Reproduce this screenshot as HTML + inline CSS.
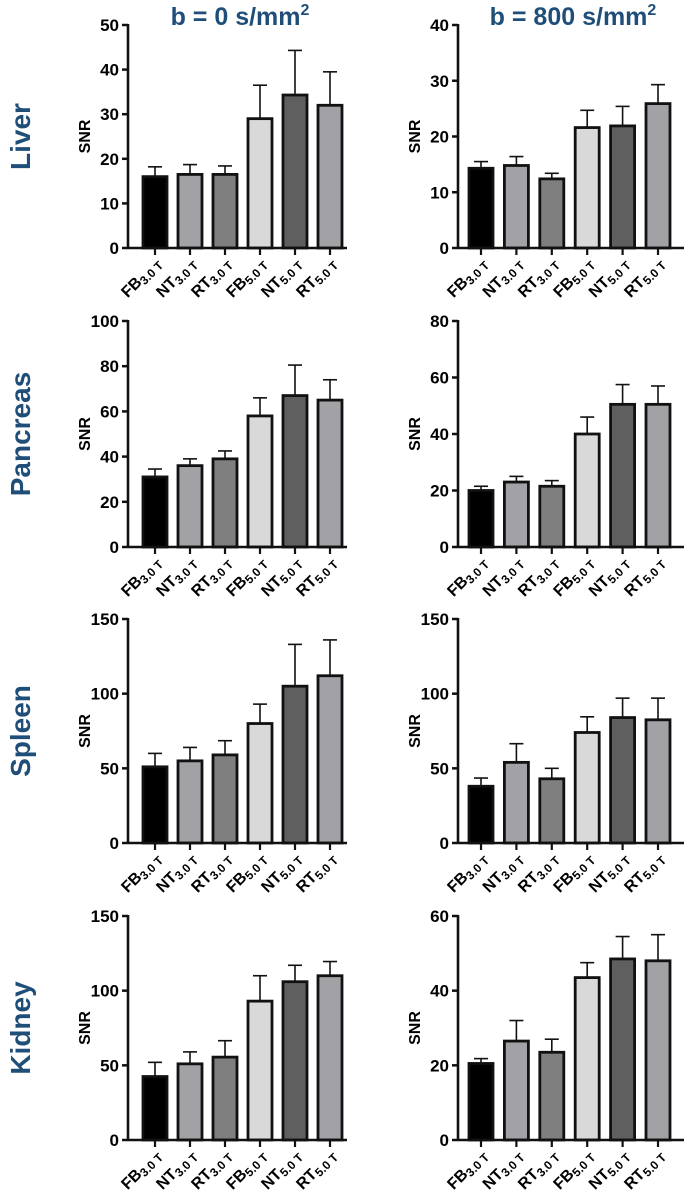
<!DOCTYPE html>
<html><head><meta charset="utf-8">
<style>
html,body{margin:0;padding:0;background:#fff;}
svg{display:block;font-family:"Liberation Sans",Arial,sans-serif;}
</style></head>
<body>
<svg id="chart" width="685" height="1202" viewBox="0 0 685 1202">
<text x="240" y="25" text-anchor="middle" font-size="25" font-weight="bold" fill="#1f4e79">b = 0 s/mm<tspan font-size="16" dy="-10">2</tspan></text>
<text x="573" y="25" text-anchor="middle" font-size="25" font-weight="bold" fill="#1f4e79">b = 800 s/mm<tspan font-size="16" dy="-10">2</tspan></text>
</svg>
<script>
const categories = ["FB","NT","RT","FB","NT","RT"];
const fields = ["3.0 T","3.0 T","3.0 T","5.0 T","5.0 T","5.0 T"];
const organs = ["Liver","Pancreas","Spleen","Kidney"];
const liverB0 = [16,16.5,16.5,29,34.3,32];
const liverB0Err = [18.2,18.7,18.4,36.5,44.3,39.5];
const liverB800 = [14.3,14.8,12.4,21.6,21.9,25.9];
const liverB800Err = [15.5,16.4,13.4,24.7,25.4,29.3];
const pancB0 = [31,36,39,58,67,65];
const pancB0Err = [34.5,39,42.5,66,80.5,74];
const pancB800 = [20,23,21.5,40,50.5,50.5];
const pancB800Err = [21.5,25,23.5,46,57.5,57];
const spleenB0 = [51,55,59,80,105,112];
const spleenB0Err = [60,64,68.5,93,133,136];
const spleenB800 = [38,54,43,74,84,82.5];
const spleenB800Err = [43.5,66.5,50,84.5,97,97];
const kidB0 = [42.5,51,55.5,93,106,110];
const kidB0Err = [52,59,66.5,110,117,119.5];
const kidB800 = [20.5,26.5,23.5,43.5,48.5,48];
const kidB800Err = [21.8,32,27,47.5,54.5,55];
const yTicksLiverB0 = [0,10,20,30,40,50];
const yTicksLiverB800 = [0,10,20,30,40];
const yTicksPancB0 = [0,20,40,60,80,100];
const yTicksPancB800 = [0,20,40,60,80];
const yTicksSpleen = [0,50,100,150];
const yTicksKidB0 = [0,50,100,150];
const yTicksKidB800 = [0,20,40,60];
const fills = ["#000000","#a2a2a6","#7f7f7f","#d9d9d9","#5f5f5f","#a2a2a6"];

const panels = [
 [liverB0,liverB0Err,yTicksLiverB0],[liverB800,liverB800Err,yTicksLiverB800],
 [pancB0,pancB0Err,yTicksPancB0],[pancB800,pancB800Err,yTicksPancB800],
 [spleenB0,spleenB0Err,yTicksSpleen],[spleenB800,spleenB800Err,yTicksSpleen],
 [kidB0,kidB0Err,yTicksKidB0],[kidB800,kidB800Err,yTicksKidB800]
];
const NS="http://www.w3.org/2000/svg";
const svg=document.getElementById('chart');
function mk(tag,attrs,parent){const e=document.createElementNS(NS,tag);for(const k in attrs)e.setAttribute(k,attrs[k]);(parent||svg).appendChild(e);return e;}
const rowTop=[25,321,619,916], rowZero=[248,547,843,1140];
const axisX=[128,458], firstBar=[155,481], step=[35,35.4], axisEnd=[347,684];

organs.forEach((o,r)=>{
  const t=mk('text',{x:0,y:0,'font-size':28,'font-weight':'bold',fill:'#1f4e79','text-anchor':'middle',transform:`translate(30,${(rowTop[r]+rowZero[r])/2}) rotate(-90)`});
  t.textContent=o;
  
  
});

panels.forEach((p,i)=>{
  const r=Math.floor(i/2), c=i%2;
  const [vals,errs,ticks]=p;
  const g=mk('g',{});
  
  
  const top=rowTop[r], zero=rowZero[r], ax=axisX[c];
  const ymax=ticks[ticks.length-1];
  const y=v=>zero-(v/ymax)*(zero-top);
  const x=k=>firstBar[c]+k*step[c];
  const yl=mk('text',{'font-size':16,'font-weight':'bold','text-anchor':'middle',transform:`translate(${ax-38},${(top+zero)/2}) rotate(-90)`},g);
  yl.textContent='SNR';
  
  
  ticks.forEach(tv=>{
    mk('line',{x1:ax-6,x2:ax,y1:y(tv),y2:y(tv),stroke:'#111','stroke-width':2.5},g);
    const tl=mk('text',{x:ax-9,y:y(tv)+6,'font-size':17,'font-weight':'bold','text-anchor':'end'},g);
    tl.textContent=tv;
    
    
  });
  vals.forEach((v,k)=>{
    const cx=x(k), w=24;
    const ey=y(errs[k]);
    mk('line',{x1:cx,x2:cx,y1:ey,y2:y(v),stroke:'#111','stroke-width':1.6},g);
    mk('line',{x1:cx-7,x2:cx+7,y1:ey,y2:ey,stroke:'#111','stroke-width':1.6},g);
    const b=mk('rect',{x:cx-w/2,y:y(v),width:w,height:zero-y(v),fill:fills[k],stroke:'#111','stroke-width':2.8},g);
    
    
    mk('line',{x1:cx,x2:cx,y1:zero,y2:zero+7,stroke:'#111','stroke-width':2.2},g);
    const xl=mk('text',{x:0,y:0,'font-size':16,'font-weight':'bold','text-anchor':'end',transform:`translate(${cx+7},${zero+16}) rotate(-45)`},g);
    xl.innerHTML=categories[k]+'<tspan font-size="12" dy="3">'+fields[k]+'</tspan>';
    
    
  });
  mk('line',{x1:ax,x2:ax,y1:top-1,y2:zero+1,stroke:'#111','stroke-width':2.6},g);
  mk('line',{x1:ax,x2:axisEnd[c],y1:zero,y2:zero,stroke:'#111','stroke-width':2.6},g);
});
</script>
</body></html>
